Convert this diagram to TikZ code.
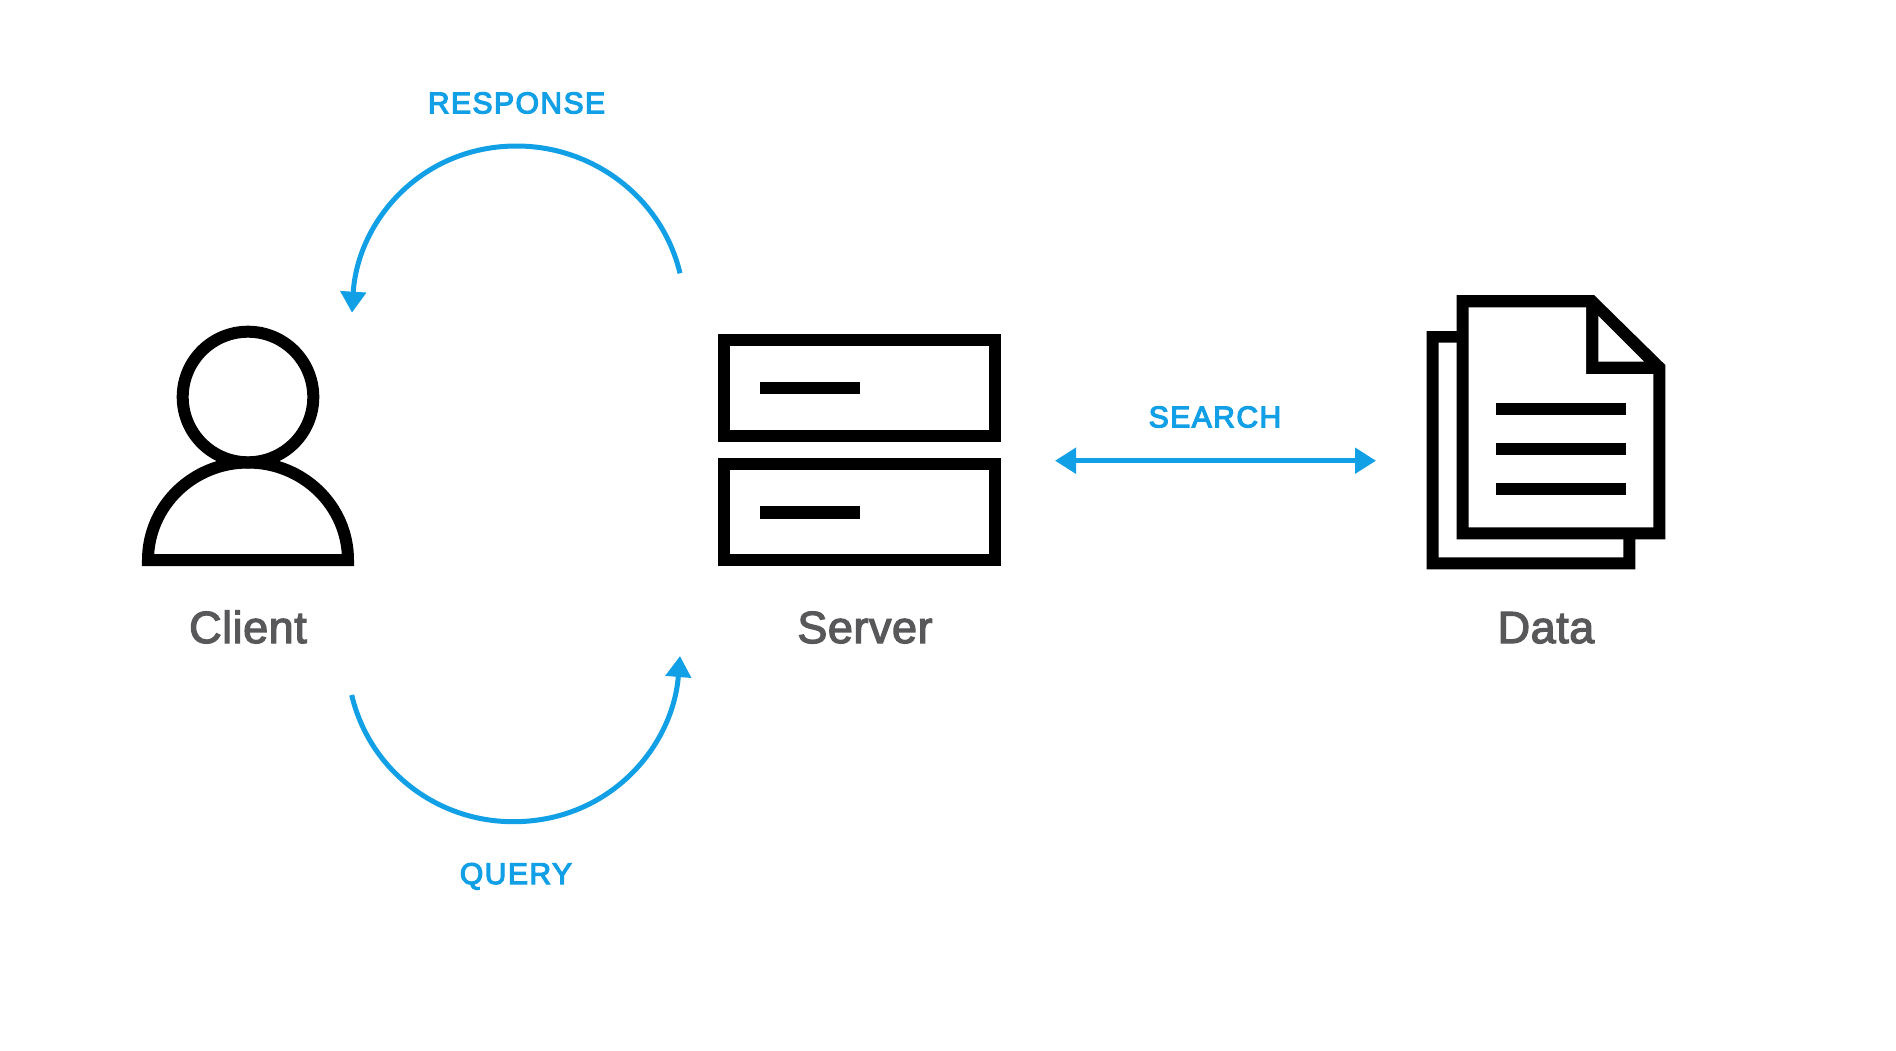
\documentclass[tikz,border=0pt]{standalone}
\usepackage{fontspec}
\usetikzlibrary{arrows.meta}
\newfontfamily\iconlabelfont[FakeBold=2.8,LetterSpace=1.2]{Liberation Sans}
\newfontfamily\flowlabelfont[FakeBold=4,LetterSpace=5]{Liberation Sans}
\definecolor{flowblue}{HTML}{119FE6}
\definecolor{labelgrey}{HTML}{58585A}
\tikzset{
  iconline/.style={draw=black,line width=12pt,miter limit=10},
  iconbar/.style={draw=black,line width=12.5pt},
  flowarrow/.style={draw=flowblue,line width=5pt,-{Triangle[length=21pt,width=25pt]}},
  flowboth/.style={draw=flowblue,line width=5pt,{Triangle[length=21pt,width=25pt]}-{Triangle[length=21pt,width=25pt]}},
  iconlabel/.style={anchor=base,inner sep=0pt,text=labelgrey,font=\iconlabelfont\fontsize{45}{50}\selectfont},
  flowlabel/.style={anchor=base,inner sep=0pt,text=flowblue,font=\flowlabelfont\fontsize{30}{34}\selectfont}
}
\begin{document}
\begin{tikzpicture}[x=1pt,y=-1pt]
\useasboundingbox (0,0) rectangle (1896,1050);
\fill[white] (0,0) rectangle (1896,1050);

% client
\draw[iconline] (248,397) circle [radius=65.3pt];
\draw[iconline] (148,560) arc [start angle=180,end angle=360,x radius=100pt,y radius=-97.5pt] -- cycle;

% server
\draw[iconline] (724.3,340.2) rectangle (995,436.2);
\draw[iconline] (724.3,464.3) rectangle (995,560);
\coordinate (barA1) at (760,388); \coordinate (barA2) at (860,388);
\coordinate (barB1) at (760,512.3); \coordinate (barB2) at (860,512.3);
\draw[iconbar] (barA1) -- (barA2);
\draw[iconbar] (barB1) -- (barB2);

% data
\fill[black] (1426.7,331) -- (1462,331) -- (1462,530) -- (1635.3,530) -- (1635.3,569.3) -- (1426.7,569.3) -- cycle;
\fill[white] (1438.7,342.7) -- (1462,342.7) -- (1462,530) -- (1623.3,530) -- (1623.3,557.3) -- (1438.7,557.3) -- cycle;
\fill[black] (1456.7,295) -- (1594,295) -- (1665.3,365) -- (1665.3,539.3) -- (1456.7,539.3) -- cycle;
\fill[white] (1468.7,307.3) -- (1586,307.3) -- (1586,374) -- (1653.3,374) -- (1653.3,527.3) -- (1468.7,527.3) -- cycle;
\fill[white] (1598.3,316) -- (1598.3,361.7) -- (1644,361.7) -- cycle;
\coordinate (l1a) at (1495.7,409); \coordinate (l1b) at (1626,409);
\coordinate (l2a) at (1495.7,449); \coordinate (l2b) at (1626,449);
\coordinate (l3a) at (1495.7,489); \coordinate (l3b) at (1626,489);
\draw[iconbar] (l1a) -- (l1b);
\draw[iconbar] (l2a) -- (l2b);
\draw[iconbar] (l3a) -- (l3b);

% labels
\node[iconlabel] (client) at (248,643) {Client};
\node[iconlabel] (server) at (865,643) {Server};
\node[iconlabel] (data) at (1546,643) {Data};
\node[flowlabel] (response) at (516.5,113.3) {RESPONSE};
\node[flowlabel] (query) at (516,884) {QUERY};
\node[flowlabel] (search) at (1215,427.3) {SEARCH};

% connectors
\coordinate (rs) at (680,273.3);
\coordinate (rt) at (516.7,146);
\coordinate (re) at (352,312.7);
\coordinate (qs) at (351.7,695);
\coordinate (qb) at (513.3,821.7);
\coordinate (qe) at (680,656);
\coordinate (sl) at (1055,460.7);
\coordinate (sr) at (1376,460.7);
\draw[flowarrow] (rs) .. controls (662.3,198.4) and (593.7,146) .. (rt)
  .. controls (421.7,146) and (357.6,220.7) .. (re);
\draw[flowarrow] (qs) .. controls (369.4,769.9) and (436.3,821.7) .. (qb)
  .. controls (608.3,821.7) and (672.6,748) .. (qe);
\draw[flowboth] (sl) -- (sr);
\end{tikzpicture}
\end{document}
